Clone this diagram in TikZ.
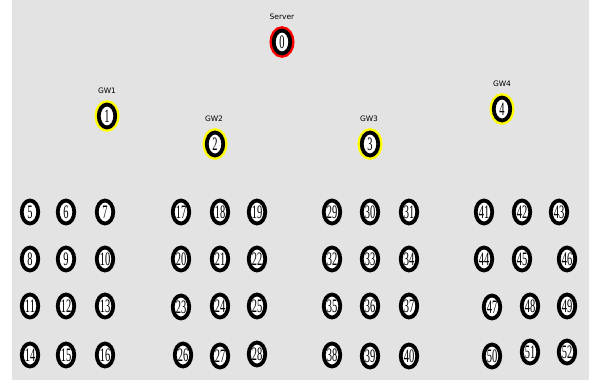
\documentclass[tikz,border=0pt]{standalone}
\usepackage{fontspec}
\setmainfont{Liberation Serif}
\setsansfont{DejaVu Sans}
\definecolor{NamGray}{HTML}{E3E3E3}
\definecolor{GwYellow}{HTML}{FFFF00}
\definecolor{SrvRed}{HTML}{FF0000}
\usepackage{tikz}
\usetikzlibrary{positioning,shapes.geometric}

\tikzset{
  sensor/.style={ellipse, draw=black, fill=white, line width=3.8pt,
    minimum width=16.5pt, minimum height=23pt, inner sep=0pt,
    font=\fontsize{19}{19}\selectfont},
  gateway/.style={sensor, preaction={draw=GwYellow, line width=8.5pt}},
  server/.style={sensor, preaction={draw=SrvRed, line width=8.5pt}},
  lbl/.style={font=\sffamily\fontsize{7.5}{7.5}\selectfont, inner sep=0pt}
}
\newcommand{\nid}[1]{\scalebox{0.55}[1]{#1}}

\begin{document}
\begin{tikzpicture}[x=1pt,y=-1pt]
  \useasboundingbox (0,0) rectangle (589,381);
  \fill[white] (0,0) rectangle (589,381);
  %% canvas
  \fill[NamGray] (12,0) rectangle (589,380);
  %% server
  \node[lbl] (lsrv) at (282,17) {Server};
  \node[server] (n0) at (282,42) {\nid{0}};
  %% gateways
  \node[lbl] (lgw1) at (107,91) {GW1};
  \node[gateway] (n1) at (107,116) {\nid{1}};
  \node[lbl] (lgw2) at (214,119) {GW2};
  \node[gateway] (n2) at (215,144) {\nid{2}};
  \node[lbl] (lgw3) at (369,119) {GW3};
  \node[gateway] (n3) at (370,144) {\nid{3}};
  \node[lbl] (lgw4) at (502,84) {GW4};
  \node[gateway] (n4) at (502,109) {\nid{4}};
  %% sensor field
  \foreach \n/\x/\y in {5/30/212, 6/66/212, 7/105/212,
      8/30/259, 9/66/259, 10/105/259,
      11/30/306, 12/66/306, 13/105/306,
      14/30/355, 15/66/355, 16/105/355,
      17/181/212, 18/220/212, 19/257/212,
      20/181/259, 21/220/259, 22/257/259,
      23/181/307, 24/220/306, 25/257/306,
      26/183/355, 27/220/356, 28/257/354,
      29/332/212, 30/370/212, 31/409/212,
      32/332/259, 33/370/259, 34/409/259,
      35/332/306, 36/370/306, 37/409/306,
      38/332/355, 39/370/356, 40/409/356,
      41/484/212, 42/522/212, 43/559/212,
      44/484/259, 45/522/259, 46/567/259,
      47/492/307, 48/530/306, 49/567/306,
      50/492/356, 51/530/352, 52/567/352}
    \node[sensor] (n\n) at (\x,\y) {\nid{\n}};
\end{tikzpicture}
\end{document}
